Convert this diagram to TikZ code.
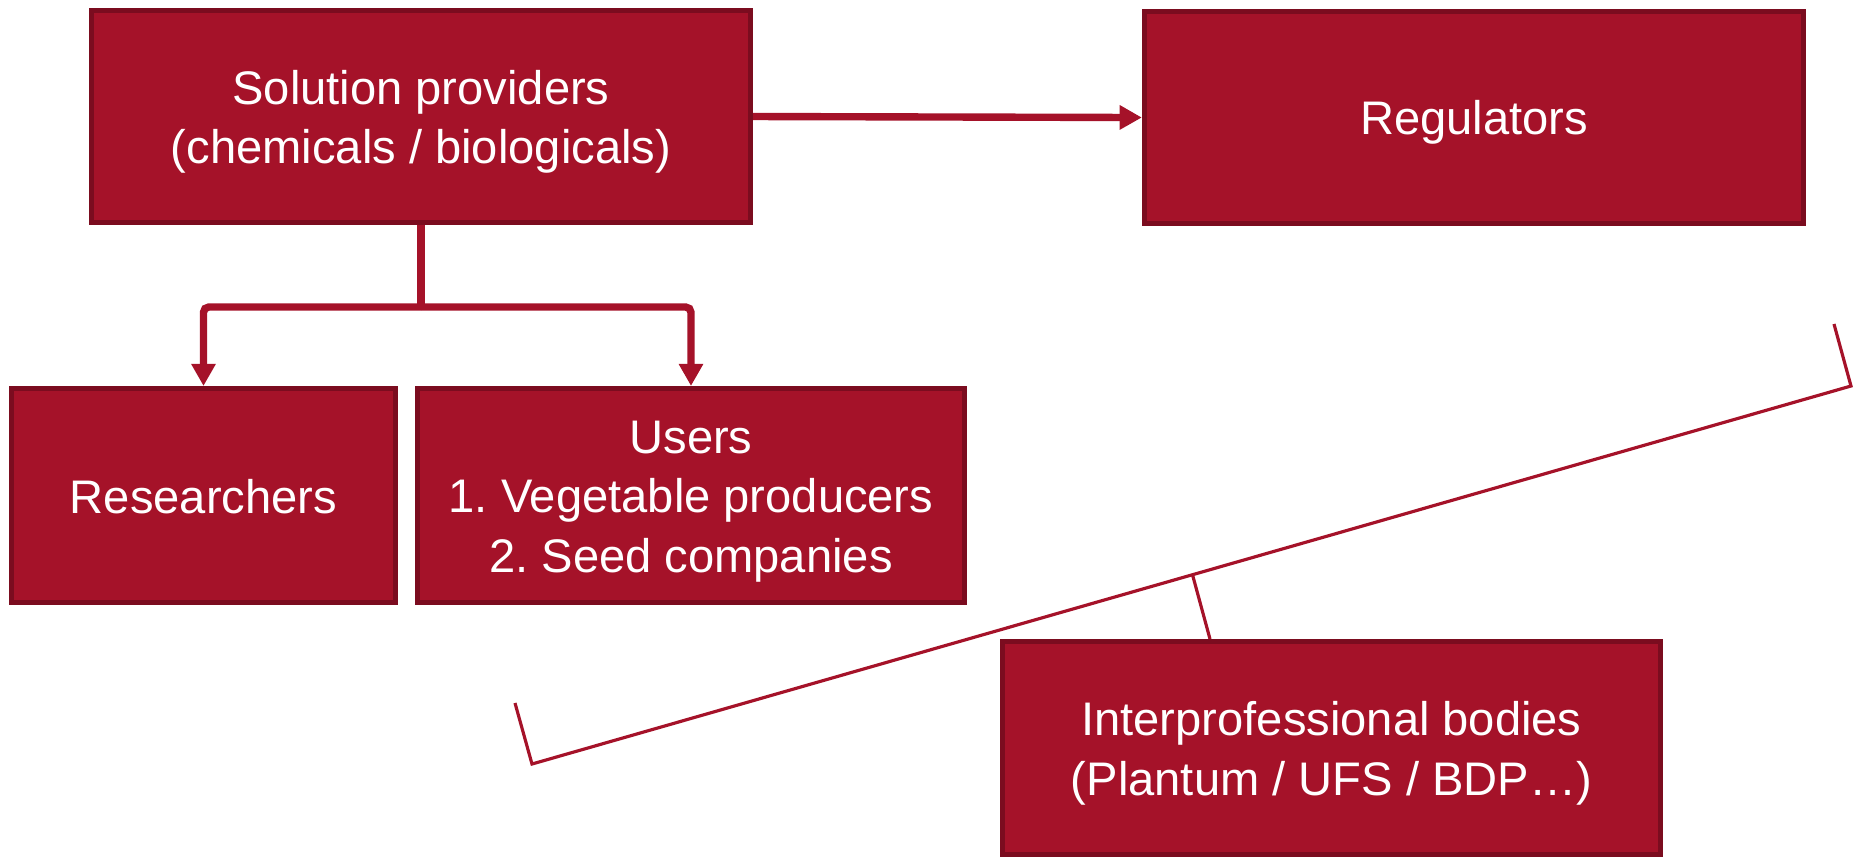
\documentclass[tikz,border=0pt]{standalone}
\usepackage{fontspec}
\setmainfont{Liberation Sans}
\usetikzlibrary{arrows.meta}
\definecolor{boxred}{HTML}{A51229}
\definecolor{boxdark}{HTML}{7B0C1F}
\newcommand{\boxstrut}{\rule[-2.2pt]{0pt}{14.8pt}}
\begin{document}
\begin{tikzpicture}[x=0.01cm,y=-0.01cm]
        \tikzstyle{actor}=[rectangle,draw=boxdark,line width=1.4pt,fill=boxred,text=white,align=center,inner sep=0pt,font=\fontsize{13.4}{16.9}\selectfont\frenchspacing]
        \tikzstyle{link}=[draw=boxred,line width=2.1pt,rounded corners=1.5pt]
        \tikzstyle{arrow}=[link,-{Triangle[length=6.3pt,width=6.6pt]}]
        \tikzstyle{brace}=[draw=boxred,line width=0.9pt]
        \useasboundingbox (0,0) rectangle (1865,856);

        \node [actor,minimum width=6.59cm,minimum height=2.12cm] (sp) at (421,116.5) {\boxstrut Solution providers\\(chemicals / biologicals)\boxstrut};
        \node [actor,minimum width=6.59cm,minimum height=2.12cm] (reg) at (1474,117.5) {\boxstrut Regulators};
        \node [actor,minimum width=3.83cm,minimum height=2.14cm] (res) at (203.5,495.5) {\boxstrut Researchers};
        \node [actor,minimum width=5.47cm,minimum height=2.14cm] (users) at (691,495.5) {\boxstrut Users\\1. Vegetable producers\\2. Seed companies\boxstrut};
        \node [actor,minimum width=6.58cm,minimum height=2.12cm] (inter) at (1331.5,748) {\boxstrut Interprofessional bodies\\(Plantum / UFS / BDP\ldots)\boxstrut};

        \coordinate (split) at (421,307);
        \draw[arrow] (sp.east) -- (reg.west);
        \draw[link] (sp.south) -- (split);
        \draw[arrow] (split) -| (res.north);
        \draw[arrow] (split) -| (users.north);

        % bracket over the interprofessional bodies
        \coordinate (b1) at (515,703);
        \coordinate (b2) at (532,764);
        \coordinate (b3) at (1851,386);
        \coordinate (b4) at (1834,324);
        \coordinate (bm) at (1192.5,574.7);
        \coordinate (bt) at (1210,639);
        \draw[brace] (b1) -- (b2) -- (b3) -- (b4);
        \draw[brace] (bm) -- (bt);
\end{tikzpicture}
\end{document}
